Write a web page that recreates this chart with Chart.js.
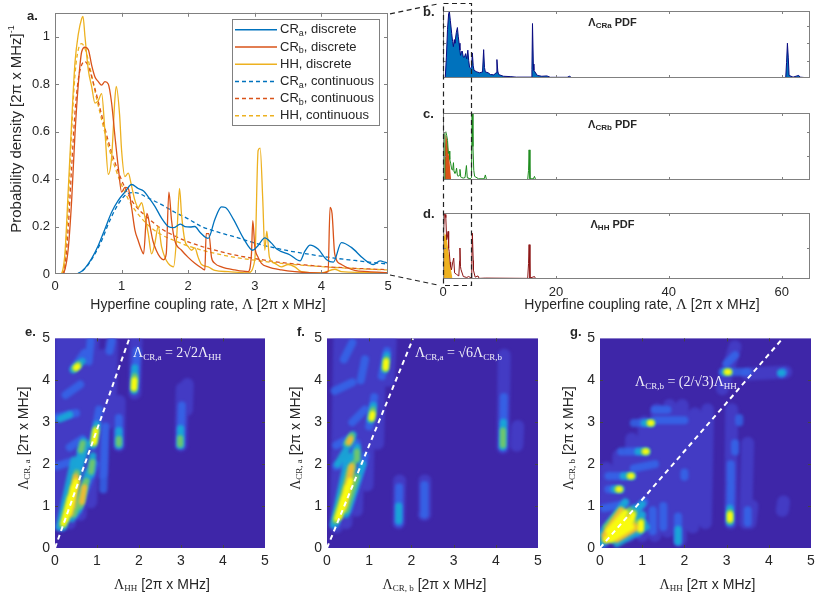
<!DOCTYPE html>
<html>
<head>
<meta charset="utf-8">
<script src="https://cdn.jsdelivr.net/npm/chart.js@4.4.1/dist/chart.umd.min.js"></script>
<style>
  body { margin: 0; background: #fff; width: 830px; height: 614px; position: relative; overflow: hidden; }
  canvas { position: absolute; }
</style>
</head>
<body>
<canvas id="ca" width="400" height="312" style="left:0;top:0;width:400px;height:312px"></canvas>
<canvas id="cb" width="392" height="95" style="left:430px;top:0;width:392px;height:95px"></canvas>
<canvas id="cc" width="392" height="95" style="left:430px;top:100px;width:392px;height:95px"></canvas>
<canvas id="cd" width="392" height="114" style="left:430px;top:200px;width:392px;height:114px"></canvas>
<canvas id="ce" width="275" height="289" style="left:0;top:325px;width:275px;height:289px"></canvas>
<canvas id="cf" width="276" height="289" style="left:272px;top:325px;width:276px;height:289px"></canvas>
<canvas id="cg" width="276" height="289" style="left:545px;top:325px;width:276px;height:289px"></canvas>
<canvas id="ov" width="830" height="614" style="left:0;top:0;width:830px;height:614px;pointer-events:none"></canvas>
<script>
// ---- panel a : probability densities, [x, y] ----
const craDiscrete = [[0,0],[0.3,0],[0.35,0.003],[0.45,0.025],[0.55,0.065],[0.65,0.12],[0.75,0.19],[0.85,0.26],[0.95,0.31],[1.05,0.345],[1.15,0.377],[1.25,0.36],[1.33,0.35],[1.4,0.325],[1.5,0.285],[1.6,0.235],[1.7,0.2],[1.78,0.195],[1.88,0.21],[1.95,0.2],[2.03,0.198],[2.1,0.2],[2.18,0.175],[2.3,0.15],[2.4,0.23],[2.5,0.283],[2.56,0.28],[2.68,0.23],[2.83,0.15],[2.97,0.1],[3.05,0.12],[3.15,0.152],[3.25,0.13],[3.33,0.105],[3.53,0.08],[3.68,0.055],[3.75,0.095],[3.83,0.122],[3.95,0.105],[4.08,0.06],[4.18,0.05],[4.3,0.132],[4.45,0.112],[4.63,0.065],[4.78,0.04],[4.88,0.055],[4.95,0.05],[5,0.045]];
const crbDiscrete = [[0,0],[0.1,0],[0.15,0.02],[0.2,0.11],[0.25,0.31],[0.3,0.59],[0.35,0.8],[0.4,0.935],[0.45,0.955],[0.5,0.945],[0.55,0.88],[0.6,0.83],[0.65,0.81],[0.7,0.795],[0.75,0.81],[0.8,0.8],[0.85,0.72],[0.9,0.58],[0.95,0.45],[1.0,0.345],[1.05,0.365],[1.1,0.36],[1.15,0.28],[1.2,0.185],[1.25,0.14],[1.3,0.1],[1.33,0.085],[1.38,0.255],[1.42,0.21],[1.47,0.14],[1.52,0.1],[1.58,0.07],[1.63,0.06],[1.67,0.085],[1.71,0.345],[1.75,0.225],[1.8,0.14],[1.9,0.1],[2.0,0.07],[2.1,0.045],[2.2,0.025],[2.25,0.017],[2.27,0.17],[2.31,0.17],[2.35,0.07],[2.4,0.045],[2.5,0.03],[2.7,0.017],[2.9,0.01],[2.95,0.085],[2.97,0.225],[3.0,0.115],[3.05,0.07],[3.1,0.045],[3.2,0.03],[3.4,0.017],[3.6,0.01],[4.0,0.004],[4.1,0.01],[4.13,0.28],[4.16,0.255],[4.2,0.085],[4.3,0.04],[4.5,0.015],[4.7,0.01],[5.0,0.005]];
const hhDiscrete = [[0,0],[0.08,0],[0.12,0.02],[0.15,0.09],[0.2,0.36],[0.25,0.64],[0.3,0.89],[0.35,1.01],[0.4,1.075],[0.42,1.085],[0.45,1.0],[0.5,0.86],[0.55,0.79],[0.6,0.72],[0.65,0.73],[0.7,0.76],[0.75,0.6],[0.8,0.42],[0.85,0.49],[0.9,0.74],[0.92,0.79],[0.97,0.67],[1.0,0.52],[1.05,0.41],[1.1,0.425],[1.15,0.37],[1.2,0.31],[1.25,0.28],[1.3,0.3],[1.35,0.24],[1.4,0.17],[1.45,0.085],[1.5,0.13],[1.55,0.2],[1.6,0.115],[1.65,0.07],[1.7,0.045],[1.78,0.03],[1.83,0.17],[1.87,0.36],[1.9,0.25],[1.95,0.14],[2.0,0.115],[2.05,0.1],[2.1,0.11],[2.15,0.07],[2.2,0.04],[2.3,0.03],[2.4,0.015],[2.6,0.01],[2.9,0.005],[3.0,0.06],[3.05,0.52],[3.08,0.53],[3.12,0.31],[3.15,0.1],[3.18,0.18],[3.22,0.07],[3.3,0.045],[3.4,0.03],[3.5,0.04],[3.6,0.03],[3.7,0.01],[4.0,0.005],[4.2,0.02],[4.3,0.01],[5.0,0.005]];
const craContinuous = [[0,0],[0.3,0],[0.4,0.01],[0.5,0.04],[0.6,0.085],[0.7,0.14],[0.8,0.21],[0.9,0.27],[1.0,0.315],[1.1,0.34],[1.2,0.343],[1.4,0.32],[1.6,0.292],[1.8,0.26],[2.0,0.232],[2.2,0.2],[2.5,0.172],[2.75,0.152],[3.0,0.13],[3.25,0.113],[3.5,0.098],[3.75,0.086],[4.0,0.075],[4.25,0.065],[4.5,0.057],[4.75,0.049],[5.0,0.042]];
const crbContinuous = [[0,0],[0.12,0],[0.15,0.03],[0.2,0.2],[0.25,0.45],[0.3,0.68],[0.35,0.82],[0.4,0.88],[0.45,0.895],[0.5,0.875],[0.6,0.78],[0.7,0.67],[0.8,0.56],[0.9,0.47],[1.0,0.395],[1.1,0.335],[1.2,0.29],[1.4,0.235],[1.6,0.19],[1.8,0.16],[2.0,0.135],[2.25,0.112],[2.5,0.093],[2.75,0.077],[3.0,0.065],[3.25,0.054],[3.5,0.045],[3.75,0.038],[4.0,0.032],[4.5,0.024],[5.0,0.018]];
const hhContinuous = [[0,0],[0.1,0],[0.15,0.06],[0.2,0.3],[0.25,0.6],[0.3,0.84],[0.35,0.945],[0.4,0.97],[0.45,0.95],[0.5,0.9],[0.6,0.77],[0.7,0.65],[0.8,0.54],[0.9,0.45],[1.0,0.375],[1.1,0.315],[1.2,0.27],[1.4,0.205],[1.6,0.165],[1.8,0.14],[2.0,0.118],[2.25,0.097],[2.5,0.081],[2.75,0.068],[3.0,0.058],[3.25,0.049],[3.5,0.042],[3.75,0.036],[4.0,0.031],[4.5,0.023],[5.0,0.017]];

// ---- panels b, c, d : wide-range PDFs (arbitrary units) ----
const pdfCRa = [[0,0],[0.4,0],[0.6,1.2],[0.8,2.8],[1.0,3.7],[1.13,3.82],[1.3,3.3],[1.54,2.56],[1.7,2.1],[1.84,1.8],[2.0,2.2],[2.1,2.0],[2.35,2.6],[2.55,2.9],[2.7,2.4],[2.85,2.0],[3.0,1.6],[3.1,1.3],[3.25,1.5],[3.4,1.55],[3.6,1.2],[3.8,1.2],[4.0,1.4],[4.2,1.1],[4.4,1.6],[4.55,1.0],[4.7,0.63],[4.9,0.55],[5.05,0.6],[5.2,1.44],[5.35,0.7],[5.5,0.44],[6.0,0.35],[6.5,0.3],[7.0,0.35],[7.2,1.63],[7.35,0.6],[7.5,0.35],[8.0,0.3],[8.4,0.2],[9.0,0.18],[9.4,0.3],[9.55,1.06],[9.7,0.4],[9.85,0.2],[10.7,0.1],[11.9,0.08],[13,0.05],[15.6,0.05],[15.75,0.5],[15.85,3.13],[16.0,0.8],[16.1,0.44],[16.7,0.15],[17.5,0.1],[18.4,0.12],[19,0.04],[22,0.04],[22.4,0.1],[22.8,0.02],[30,0.01],[40,0.005],[50,0.005],[60.7,0.03],[60.85,0.9],[61.0,2.0],[61.15,1.2],[61.3,0.15],[62,0.05],[63.0,0.15],[63.2,0.05],[65,0]];
const pdfCRb = [[0,0],[0.2,0],[0.3,1.2],[0.35,1.94],[0.5,2.0],[0.65,1.85],[0.8,1.65],[0.95,1.1],[1.1,1.2],[1.2,0.85],[1.35,0.7],[1.5,0.5],[1.6,0.42],[1.75,0.5],[1.85,0.72],[1.95,0.35],[2.1,0.28],[2.25,0.3],[2.4,0.49],[2.55,0.2],[2.7,0.15],[2.85,0.2],[3.0,0.44],[3.15,0.12],[3.3,0.1],[3.6,0.08],[3.9,0.1],[4.15,0.6],[4.3,0.1],[4.4,0.08],[4.8,0.05],[5.05,0.1],[5.15,2.75],[5.3,1.39],[5.45,0.4],[5.6,0.15],[6.3,0.05],[7.3,0.05],[7.5,0.21],[7.7,0.02],[15.0,0.02],[15.15,0.4],[15.25,1.25],[15.4,0.05],[16.0,0.05],[16.2,0.15],[16.4,0.02],[50,0.01]];
const pdfCRbLow = [[0.25,0],[0.32,1.2],[0.45,1.9],[0.6,1.8],[0.8,1.55],[1.0,1.1],[1.15,0.8],[1.3,0.35],[1.45,0]];
const pdfHH = [[0,0],[0.06,0],[0.15,1.5],[0.25,2.15],[0.4,2.1],[0.5,2.0],[0.65,1.28],[0.8,1.4],[0.9,1.55],[1.0,1.0],[1.1,0.9],[1.25,0.55],[1.35,0.4],[1.5,0.3],[1.7,0.52],[1.9,0.68],[2.05,0.2],[2.4,0.15],[2.8,0.1],[2.95,0.6],[3.0,1.01],[3.1,0.4],[3.2,0.3],[3.6,0.08],[4.2,0.05],[4.55,0.08],[5.0,0.03],[5.1,0.5],[5.2,1.49],[5.35,0.6],[5.4,0.28],[5.7,0.06],[6.2,0.1],[6.4,0.02],[7.5,0.03],[15.0,0.02],[15.15,0.5],[15.25,1.12],[15.4,0.03],[16.2,0.08],[16.4,0.01],[50,0.01]];
const pdfHHLow = [[0.08,0],[0.15,1.3],[0.3,1.5],[0.6,1.4],[0.9,1.0],[1.2,0.55],[1.5,0.2],[1.7,0]];

// ---- panels e, f, g : joint densities, streaks [x0, y0, x1, y1] per intensity level ----
const eHaze = [[0.12,0.55,0.15,4.95],[0.35,0.6,0.4,4.95],[0.6,0.8,0.65,4.95],[0.85,1.1,0.9,4.95],[1.1,1.8,1.15,4.6],[1.3,3.0,1.35,4.9],[1.52,2.45,1.53,3.5],[1.9,3.7,1.93,4.95],[3.0,2.45,3.03,3.8],[3.13,3.3,3.15,3.9]];
const eLow = [[0.15,0.5,0.65,2.3],[0.5,0.8,0.95,2.0],[0.05,3.12,0.5,3.22],[0.25,3.65,0.6,3.9],[0.05,1.95,0.35,2.05],[0.35,2.4,0.65,2.6],[0.45,4.3,0.7,4.65],[0.9,2.45,1.05,3.3],[1.15,1.4,1.2,2.9],[1.52,2.45,1.52,3.1],[1.9,3.8,1.95,4.7],[2.99,2.45,3.02,3.4],[0.8,4.45,0.85,4.95],[1.3,4.7,1.35,4.95]];
const eMid = [[0.1,0.5,0.45,2.1],[0.4,0.7,0.85,1.9],[0.5,1.6,0.75,2.5],[0.2,0.5,0.55,1.9],[0.55,0.9,0.78,1.8],[0.45,1.8,0.62,2.25],[0.6,2.3,0.68,2.55],[0.85,1.75,0.9,2.2],[0.9,2.45,1.0,2.95],[1.52,2.45,1.52,2.8],[1.88,3.75,1.9,4.3],[0.43,4.25,0.65,4.45],[2.98,2.45,2.99,2.85],[0.12,3.08,0.35,3.18]];
const eHigh = [[0.18,0.55,0.52,1.8],[0.45,0.8,0.75,1.6],[0.22,0.6,0.5,1.6],[0.6,1.0,0.72,1.55],[0.62,2.33,0.66,2.5],[0.86,1.82,0.89,2.05],[0.92,2.5,0.98,2.85],[1.52,2.48,1.52,2.6],[1.88,3.8,1.9,4.1],[0.47,4.28,0.56,4.38],[2.98,2.47,2.98,2.62]];
const eHot = [[0.35,0.8,0.52,1.6],[0.42,1.0,0.5,1.7],[0.64,1.1,0.7,1.45]];
const ePeak = [[0.2,0.58,0.36,1.2],[0.26,0.68,0.44,1.45],[0.33,0.85,0.5,1.58],[0.93,2.52,0.97,2.8],[1.88,3.82,1.89,4.0],[0.5,4.3,0.54,4.33]];
const eDiag = [[0,0],[1.77,5]];

const fHaze = [[0.22,0.5,0.3,4.95],[0.45,0.6,0.52,4.95],[0.7,0.9,0.78,4.95],[0.95,1.5,1.02,4.95],[1.2,2.5,1.25,4.95],[1.45,4.0,1.5,4.95],[1.7,0.6,1.72,1.6],[2.3,0.8,2.32,1.6],[4.17,2.4,4.2,4.6],[4.5,2.45,4.52,2.9]];
const fLow = [[0.2,0.55,0.7,2.5],[0.5,0.9,0.9,2.2],[0.18,3.75,0.6,3.95],[0.22,2.45,0.5,2.6],[0.22,1.95,0.5,2.05],[1.0,2.9,1.12,3.6],[1.3,4.1,1.42,4.7],[0.6,3.0,0.9,3.3],[1.7,0.6,1.71,1.45],[2.3,0.8,2.31,1.5],[4.17,2.4,4.19,3.6],[0.4,4.5,0.6,4.9],[0.8,4.0,0.9,4.5]];
const fMid = [[0.15,0.55,0.5,2.2],[0.45,0.8,0.85,2.0],[0.25,2.0,0.6,2.6],[0.22,0.62,0.6,1.9],[0.45,1.6,0.72,2.4],[0.45,2.45,0.62,2.7],[0.7,2.1,0.72,2.35],[1.03,3.05,1.1,3.4],[1.37,4.25,1.42,4.6],[4.16,2.42,4.18,3.0],[1.7,0.65,1.7,1.0]];
const fHigh = [[0.2,0.65,0.55,1.9],[0.45,0.9,0.7,1.7],[0.25,0.7,0.55,1.6],[0.5,1.5,0.62,2.0],[0.48,2.5,0.58,2.68],[0.7,2.12,0.71,2.3],[1.05,3.08,1.09,3.3],[1.38,4.28,1.41,4.5],[4.17,2.45,4.17,2.8]];
const fHot = [[0.4,1.0,0.58,1.9],[0.5,1.5,0.58,1.95],[0.52,2.52,0.56,2.6]];
const fPeak = [[0.24,0.7,0.4,1.2],[0.3,0.75,0.48,1.45],[0.36,0.9,0.55,1.6],[1.39,4.3,1.4,4.45],[1.06,3.1,1.08,3.2]];
const fDiag = [[0,0],[2.04,5]];

const gHaze = [[0.1,0.15,0.15,1.9],[0.4,0.25,0.45,2.2],[0.7,0.3,0.75,2.6],[1.0,0.3,1.05,3.0],[1.3,0.3,1.35,3.3],[1.6,0.4,1.65,3.4],[1.9,0.2,1.95,3.4],[2.2,0.5,2.25,3.2],[2.5,0.6,2.55,3.3],[2.9,3.8,3.2,4.8],[3.1,0.6,3.12,3.3],[3.45,0.6,3.5,2.5],[3.55,0.6,3.6,1.0],[4.32,0.9,4.35,1.1],[3.5,4.15,4.4,4.2]];
const gLow = [[0.1,0.15,1.05,1.1],[0.1,0.95,0.6,1.05],[0.2,1.4,0.5,1.4],[0.2,1.72,0.78,1.72],[0.5,2.3,1.1,2.3],[0.8,2.98,1.22,2.98],[1.3,3.3,1.6,3.3],[1.3,3.05,2.0,3.05],[2.9,4.2,3.5,4.2],[3.0,4.4,3.2,4.6],[1.85,0.15,1.85,0.75],[1.5,0.5,1.5,1.0],[1.25,0.4,1.25,0.9],[3.08,0.6,3.1,1.5],[3.5,0.6,3.5,0.9],[3.1,1.6,3.1,2.0],[3.2,2.3,3.2,2.5],[3.3,3.0,3.3,3.1],[2.0,1.7,2.0,1.8],[4.3,4.15,4.35,4.2],[0.9,0.35,1.0,0.75],[0.8,1.9,1.3,2.0]];
const gMid = [[0.0,0.3,0.6,1.1],[0.4,0.1,1.1,0.5],[0.05,0.1,1.0,1.05],[0.1,0.4,0.6,1.1],[0.5,0.2,1.05,0.6],[0.1,0.15,0.8,0.95],[0.3,0.2,1.0,0.8],[0.75,0.5,0.8,0.95],[0.93,0.4,0.98,0.7],[0.33,1.4,0.47,1.4],[0.55,1.72,0.75,1.72],[0.9,2.3,1.1,2.3],[1.05,2.98,1.22,2.98],[2.95,4.2,3.05,4.2],[1.85,0.15,1.85,0.45],[3.08,0.62,3.08,0.95],[4.28,4.18,4.32,4.18]];
const gHigh = [[0.1,0.2,0.7,0.9],[0.3,0.2,0.85,0.6],[0.15,0.5,0.5,0.9],[0.72,0.6,0.8,0.85],[0.95,0.42,0.98,0.65],[0.41,1.4,0.47,1.4],[0.69,1.72,0.75,1.72],[1.04,2.3,1.1,2.3],[1.17,2.98,1.22,2.98],[2.99,4.2,3.05,4.2],[3.08,0.65,3.08,0.85]];
const gHot = [[0.1,0.3,0.5,0.9],[0.4,0.2,0.9,0.5],[0.15,0.2,0.7,0.75],[0.35,0.25,0.8,0.55]];
const gPeak = [[0.15,0.2,0.45,0.5],[0.22,0.25,0.6,0.68],[0.3,0.45,0.55,0.8],[0.4,0.3,0.7,0.58],[0.2,0.4,0.6,0.85],[0.25,0.2,0.75,0.5],[0.74,0.65,0.78,0.8],[0.96,0.45,0.97,0.6],[0.44,1.4,0.47,1.4],[0.72,1.72,0.75,1.72],[1.07,2.3,1.1,2.3],[1.19,2.98,1.22,2.98],[3.01,4.2,3.05,4.2],[3.08,0.68,3.08,0.8]];
const gDiag = [[0,0],[4.33,5]];

// ---- styles ----
const SANS = 'Arial, "Liberation Sans", sans-serif';
const SERIF = '"Times New Roman", "Liberation Serif", serif';
const TXT = '#262626';
const BLUE = '#0072BD', ORANGE = '#D95319', YELLOW = '#EDB120';
const PARULA_BG = '#3E26A8';
const LEVELS = {
  haze: { c: 'rgba(72,80,224,0.5)', w: 13 },
  low:  { c: 'rgba(48,112,242,0.7)', w: 8 },
  mid:  { c: 'rgba(22,172,214,0.9)', w: 7 },
  high: { c: 'rgb(110,198,110)', w: 6 },
  hot:  { c: 'rgb(236,186,55)', w: 6 },
  peak: { c: 'rgb(249,251,14)', w: 6 }
};

Chart.defaults.font.family = SANS;
Chart.defaults.color = TXT;
Chart.defaults.animation = false;
Chart.defaults.responsive = false;

const toXY = p => p.map(([x, y]) => ({ x, y }));

function drawParts(ctx, parts, x, y, align, angle) {
  ctx.save();
  ctx.translate(x, y);
  if (angle) ctx.rotate(angle);
  ctx.textBaseline = 'middle';
  ctx.textAlign = 'left';
  let w = 0;
  parts.forEach(p => { ctx.font = p[1]; w += ctx.measureText(p[0]).width; });
  let cx = align === 'center' ? -w / 2 : 0;
  parts.forEach(p => {
    ctx.font = p[1];
    ctx.fillStyle = p[3] || TXT;
    ctx.fillText(p[0], cx, p[2] || 0);
    cx += ctx.measureText(p[0]).width;
  });
  ctx.restore();
}

const framePlugin = {
  id: 'frame',
  beforeDatasetsDraw(chart, args, o) {
    if (!o.fill) return;
    const { ctx, chartArea: a } = chart;
    ctx.save();
    ctx.fillStyle = o.fill;
    ctx.fillRect(a.left, a.top, a.width, a.height);
    ctx.restore();
  },
  afterDraw(chart, args, o) {
    const { ctx, chartArea: a, scales } = chart;
    const len = o.len || 4;
    ctx.save();
    ctx.lineWidth = 1;
    ctx.strokeStyle = o.tick || '#777';
    ctx.beginPath();
    const sx = scales.x, sy = scales.y;
    sx.ticks.forEach(t => {
      if (t.value <= sx.min || t.value >= sx.max) return;
      const px = Math.round(sx.getPixelForValue(t.value)) + 0.5;
      ctx.moveTo(px, a.bottom); ctx.lineTo(px, a.bottom - len);
      ctx.moveTo(px, a.top); ctx.lineTo(px, a.top + len);
    });
    sy.ticks.forEach(t => {
      if (t.value <= sy.min || t.value >= sy.max) return;
      if (o.yTop !== undefined && t.value > o.yTop) return;
      const py = Math.round(sy.getPixelForValue(t.value)) + 0.5;
      ctx.moveTo(a.left, py); ctx.lineTo(a.left + len, py);
      ctx.moveTo(a.right, py); ctx.lineTo(a.right - len, py);
    });
    ctx.stroke();
    if (o.box) {
      ctx.strokeStyle = o.box;
      ctx.strokeRect(Math.round(a.left) + 0.5, Math.round(a.top) + 0.5, Math.round(a.width) - 1, Math.round(a.height) - 1);
    }
    ctx.restore();
  }
};

const blurPlugin = {
  id: 'blurLayers',
  beforeDatasetDraw(chart, args) {
    if (chart.data.datasets[args.index].blur) chart.ctx.filter = 'blur(1.5px)';
  },
  afterDatasetDraw(chart) { chart.ctx.filter = 'none'; }
};

function textPlugin(fn) {
  return { id: 'txt', afterDraw(chart) { fn(chart.ctx, chart.chartArea); } };
}

function linScale(min, max, step, fitSize, horizontal, extra) {
  return Object.assign({
    type: 'linear', min, max,
    grid: { display: false, drawTicks: false },
    border: { display: false },
    ticks: { stepSize: step, padding: 5, font: { size: 13 }, color: TXT, maxRotation: 0 },
    afterFit(s) { if (horizontal) s.height = fitSize; else s.width = fitSize; }
  }, extra || {});
}

// ---------- panel a ----------
// note: Chart.js paints the first dataset last (on top)
function curve(points, color, dashed, label) {
  return {
    label, data: toXY(points), showLine: true, borderColor: color, borderWidth: 1.3,
    borderDash: dashed ? [4, 3] : [], pointRadius: 0, cubicInterpolationMode: 'monotone', clip: 0
  };
}
const legendRows = [
  { parts: [['CR', '13px ' + SANS], ['a', '9px ' + SANS, 4], [', discrete', '13px ' + SANS]], color: BLUE, dash: [] },
  { parts: [['CR', '13px ' + SANS], ['b', '9px ' + SANS, 4], [', discrete', '13px ' + SANS]], color: ORANGE, dash: [] },
  { parts: [['HH, discrete', '13px ' + SANS]], color: YELLOW, dash: [] },
  { parts: [['CR', '13px ' + SANS], ['a', '9px ' + SANS, 4], [', continuous', '13px ' + SANS]], color: BLUE, dash: [4, 3] },
  { parts: [['CR', '13px ' + SANS], ['b', '9px ' + SANS, 4], [', continuous', '13px ' + SANS]], color: ORANGE, dash: [4, 3] },
  { parts: [['HH, continuous', '13px ' + SANS]], color: YELLOW, dash: [4, 3] }
];
const chartA = new Chart(document.getElementById('ca'), {
  type: 'scatter',
  data: { datasets: [
    curve(craDiscrete, BLUE, false, 'CRa discrete'),
    curve(crbDiscrete, ORANGE, false, 'CRb discrete'),
    curve(hhDiscrete, YELLOW, false, 'HH discrete'),
    curve(craContinuous, BLUE, true, 'CRa continuous'),
    curve(crbContinuous, ORANGE, true, 'CRb continuous'),
    curve(hhContinuous, YELLOW, true, 'HH continuous')
  ] },
  options: {
    events: [],
    layout: { padding: { left: 0, right: 12, top: 11, bottom: 0 } },
    scales: {
      x: linScale(0, 5, 1, 38, true),
      y: linScale(0, 1.1, 0.2, 55, false, {
        ticks: { stepSize: 0.2, padding: 5, font: { size: 13 }, color: TXT,
          callback: v => (v > 1.0001 ? '' : String(+v.toFixed(2))) }
      })
    },
    plugins: { legend: { display: false }, tooltip: { enabled: false },
      frame: { box: '#808080', tick: '#808080', len: 4, yTop: 1.0 } }
  },
  plugins: [framePlugin, textPlugin((ctx, a) => {
    drawParts(ctx, [['Hyperfine coupling rate, ', '14px ' + SANS], ['Λ', '15px ' + SERIF], [' [2π x MHz]', '14px ' + SANS]], 208, 305, 'center');
    drawParts(ctx, [['Probability density [2π x MHz]', '15px ' + SANS], ['-1', '9px ' + SANS, -5]], 17, 129, 'center', -Math.PI / 2);
    // legend box
    const bx = a.right - 156, by = a.top + 6, bw = 147, bh = 106;
    ctx.save();
    ctx.fillStyle = '#fff';
    ctx.fillRect(bx, by, bw, bh);
    ctx.strokeStyle = '#808080';
    ctx.lineWidth = 1;
    ctx.strokeRect(Math.round(bx) + 0.5, Math.round(by) + 0.5, bw, bh);
    legendRows.forEach((r, i) => {
      const ry = by + 11 + i * 17.2;
      ctx.strokeStyle = r.color;
      ctx.lineWidth = 1.5;
      ctx.setLineDash(r.dash);
      ctx.beginPath(); ctx.moveTo(bx + 3, ry); ctx.lineTo(bx + 45, ry); ctx.stroke();
      ctx.setLineDash([]);
      drawParts(ctx, r.parts, bx + 48, ry, 'left');
    });
    ctx.restore();
  })]
});

// ---------- panels b, c, d ----------
function pdfChart(id, series, fillSeries, lineColor, fillColor, yMax, top, axisH, title, showX) {
  const datasets = [{ data: toXY(series), showLine: true, borderColor: lineColor, borderWidth: 1,
    backgroundColor: fillSeries ? 'rgba(0,0,0,0)' : fillColor, fill: fillSeries ? false : 'origin', pointRadius: 0, clip: 0 }];
  if (fillSeries) datasets.push({ data: toXY(fillSeries), showLine: true, borderWidth: 0, borderColor: 'rgba(0,0,0,0)',
    backgroundColor: fillColor, fill: 'origin', pointRadius: 0, clip: 0 });
  return new Chart(document.getElementById(id), {
    type: 'scatter',
    data: { datasets },
    options: {
      events: [],
      layout: { padding: { left: 0, right: 12, top, bottom: 0 } },
      scales: {
        x: linScale(0, 65, 20, axisH, true, { ticks: { display: showX, stepSize: 20, padding: 6, font: { size: 13 }, color: TXT,
          callback: v => (v % 20 === 0 ? String(v) : '') } }),
        y: linScale(0, yMax, 1, 13, false, { ticks: { display: false, stepSize: 1 } })
      },
      plugins: { legend: { display: false }, tooltip: { enabled: false },
        frame: { box: '#808080', tick: '#808080', len: 3 } }
    },
    plugins: [framePlugin, textPlugin((ctx, a) => {
      drawParts(ctx, title, (a.left + a.right) / 2 - 14, a.top + 12, 'center');
      if (showX) drawParts(ctx, [['Hyperfine coupling rate, ', '14px ' + SANS], ['Λ', '15px ' + SERIF], [' [2π x MHz]', '14px ' + SANS]], 212, 105, 'center');
    })]
  });
}
const pdfTitle = sub => [['Λ', 'bold 11px ' + SANS], [sub, 'bold 8px ' + SANS, 3], [' PDF', 'bold 11px ' + SANS]];
const chartB = pdfChart('cb', pdfCRa, null, '#0A0A80', BLUE, 3.85, 11, 17, pdfTitle('CRa'), false);
const chartC = pdfChart('cc', pdfCRb, pdfCRbLow, '#1E8C1E', ORANGE, 2.78, 13, 15, pdfTitle('CRb'), false);
const chartD = pdfChart('cd', pdfHH, pdfHHLow, '#8C1414', YELLOW, 2.15, 13, 35, pdfTitle('HH'), true);

// ---------- panels e, f, g ----------
function streaks(list) {
  const pts = [];
  list.forEach(s => { pts.push({ x: s[0], y: s[1] }, { x: s[2], y: s[3] }, { x: s[2], y: null }); });
  return pts;
}
function heatChart(id, layers, diag, relation, relPos, xTitle, yTitle) {
  // dashed guide first so it is painted on top, then brightest layer down to the haze
  const datasets = [{ data: toXY(diag), showLine: true, borderColor: '#fff', borderWidth: 2,
    borderDash: [5, 4], pointRadius: 0, clip: 0 }];
  layers.slice().reverse().forEach(([list, lv]) => datasets.push({
    data: streaks(list), showLine: true, borderColor: LEVELS[lv].c, borderWidth: LEVELS[lv].w,
    borderCapStyle: 'round', borderJoinStyle: 'round', pointRadius: 0, spanGaps: false, clip: 0, blur: true
  }));
  return new Chart(document.getElementById(id), {
    type: 'scatter',
    data: { datasets },
    options: {
      events: [],
      layout: { padding: { left: 0, right: 10, top: 13, bottom: 0 } },
      scales: {
        x: linScale(0, 5, 1, 66, true, { ticks: { stepSize: 1, padding: 5, font: { size: 14 }, color: TXT } }),
        y: linScale(0, 5, 1, 55, false, { ticks: { stepSize: 1, padding: 5, font: { size: 14 }, color: TXT } })
      },
      plugins: { legend: { display: false }, tooltip: { enabled: false },
        frame: { fill: PARULA_BG, tick: '#444', len: 3 } }
    },
    plugins: [framePlugin, blurPlugin, textPlugin((ctx, a) => {
      drawParts(ctx, relation, a.left + relPos[0], a.top + relPos[1], 'left');
      drawParts(ctx, xTitle, (a.left + a.right) / 2 + 2, a.bottom + 37, 'center');
      drawParts(ctx, yTitle, a.left - 31, (a.top + a.bottom) / 2 - 5, 'center', -Math.PI / 2);
    })]
  });
}
const W = 'rgba(255,255,255,0.92)';
const rel = (s1, mid, s2) => [['Λ', '14px ' + SERIF, 0, W], [s1, '9px ' + SERIF, 4, W], [mid, '14px ' + SERIF, 0, W], [s2, '9px ' + SERIF, 4, W]];
const axTitle = sub => [['Λ', '14px ' + SERIF], [sub, '9px ' + SERIF, 4], [' [2π x MHz]', '14px ' + SANS]];

heatChart('ce', [[eHaze, 'haze'], [eLow, 'low'], [eMid, 'mid'], [eHigh, 'high'], [eHot, 'hot'], [ePeak, 'peak']], eDiag,
  rel('CR,a', ' = 2√2Λ', 'HH'), [78, 15], axTitle('HH'), axTitle('CR, a'));
heatChart('cf', [[fHaze, 'haze'], [fLow, 'low'], [fMid, 'mid'], [fHigh, 'high'], [fHot, 'hot'], [fPeak, 'peak']], fDiag,
  rel('CR,a', ' = √6Λ', 'CR,b'), [88, 15], axTitle('CR, b'), axTitle('CR, a'));
heatChart('cg', [[gHaze, 'haze'], [gLow, 'low'], [gMid, 'mid'], [gHigh, 'high'], [gHot, 'hot'], [gPeak, 'peak']], gDiag,
  rel('CR,b', ' = (2/√3)Λ', 'HH'), [35, 44], axTitle('HH'), axTitle('CR, b'));

// ---------- overlay: zoom box, connectors, panel letters ----------
(function () {
  const ctx = document.getElementById('ov').getContext('2d');
  const aA = chartA.chartArea;
  const xs = chartB.scales.x;
  const boxL = 430 + xs.getPixelForValue(0), boxR = 430 + xs.getPixelForValue(5);
  const boxT = 3.5, boxB = 285.5;
  ctx.strokeStyle = '#222';
  ctx.lineWidth = 1.2;
  ctx.setLineDash([5, 3.5]);
  ctx.strokeRect(Math.round(boxL) + 0.5, boxT, Math.round(boxR - boxL), boxB - boxT);
  ctx.beginPath();
  ctx.moveTo(aA.right + 2, aA.top + 1); ctx.lineTo(boxL - 3, boxT);
  ctx.moveTo(aA.right + 2, aA.bottom + 1); ctx.lineTo(boxL - 3, boxB);
  ctx.stroke();
  ctx.setLineDash([]);
  ctx.fillStyle = TXT;
  ctx.font = 'bold 13px ' + SANS;
  ctx.textBaseline = 'alphabetic';
  [['a.', 27, 20], ['b.', 423, 16], ['c.', 423, 118], ['d.', 423, 218], ['e.', 25, 336], ['f.', 297, 336], ['g.', 570, 336]]
    .forEach(([t, x, y]) => ctx.fillText(t, x, y));
})();
</script>
</body>
</html>
